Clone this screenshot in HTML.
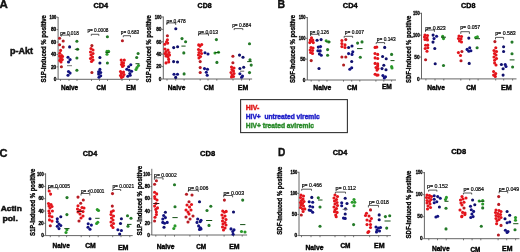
<!DOCTYPE html>
<html><head><meta charset="utf-8"><style>
html,body{margin:0;padding:0;background:#fff;}
body{width:520px;height:252px;overflow:hidden;}
svg{display:block;font-family:"Liberation Sans",sans-serif;filter:blur(0.45px);}
</style></head><body>
<svg width="520" height="252" viewBox="0 0 520 252">
<rect width="520" height="252" fill="#fff"/>
<text x="-0.4" y="8.3" font-size="11.5" font-weight="bold" fill="#111" stroke="#111" stroke-width="0.4">A</text>
<text x="277.6" y="8.4" font-size="11.5" font-weight="bold" fill="#111" stroke="#111" stroke-width="0.4" textLength="7.6" lengthAdjust="spacingAndGlyphs">B</text>
<text x="-0.4" y="156.6" font-size="11.5" font-weight="bold" fill="#111" stroke="#111" stroke-width="0.4" textLength="8.0" lengthAdjust="spacingAndGlyphs">C</text>
<text x="277.9" y="156.3" font-size="11.5" font-weight="bold" fill="#111" stroke="#111" stroke-width="0.4" textLength="7.3" lengthAdjust="spacingAndGlyphs">D</text>
<text x="9.9" y="53.5" font-size="8.5" font-weight="bold" fill="#111" stroke="#111" stroke-width="0.45" textLength="23.2" lengthAdjust="spacingAndGlyphs">p-Akt</text>
<text x="0.8" y="210.5" font-size="8.0" font-weight="bold" fill="#111" stroke="#111" stroke-width="0.5" textLength="21.0" lengthAdjust="spacingAndGlyphs">Actin</text>
<text x="2.5" y="221.3" font-size="8.0" font-weight="bold" fill="#111" stroke="#111" stroke-width="0.5" textLength="15.4" lengthAdjust="spacingAndGlyphs">pol.</text>
<path d="M58.1 17.0V79.3H139" stroke="#555" stroke-width="0.9" fill="none"/>
<line x1="56.6" y1="17.200000000000003" x2="58.1" y2="17.200000000000003" stroke="#555" stroke-width="0.8"/>
<text x="56.3" y="18.9" font-size="4.8" font-weight="bold" fill="#000" stroke="#000" stroke-width="0.3" text-anchor="end" textLength="6.8" lengthAdjust="spacingAndGlyphs">100</text>
<line x1="56.6" y1="29.619999999999997" x2="58.1" y2="29.619999999999997" stroke="#555" stroke-width="0.8"/>
<text x="56.3" y="31.3" font-size="4.8" font-weight="bold" fill="#000" stroke="#000" stroke-width="0.3" text-anchor="end">80</text>
<line x1="56.6" y1="42.04" x2="58.1" y2="42.04" stroke="#555" stroke-width="0.8"/>
<text x="56.3" y="43.7" font-size="4.8" font-weight="bold" fill="#000" stroke="#000" stroke-width="0.3" text-anchor="end">60</text>
<line x1="56.6" y1="54.459999999999994" x2="58.1" y2="54.459999999999994" stroke="#555" stroke-width="0.8"/>
<text x="56.3" y="56.2" font-size="4.8" font-weight="bold" fill="#000" stroke="#000" stroke-width="0.3" text-anchor="end">40</text>
<line x1="56.6" y1="66.88" x2="58.1" y2="66.88" stroke="#555" stroke-width="0.8"/>
<text x="56.3" y="68.6" font-size="4.8" font-weight="bold" fill="#000" stroke="#000" stroke-width="0.3" text-anchor="end">20</text>
<line x1="56.6" y1="79.3" x2="58.1" y2="79.3" stroke="#555" stroke-width="0.8"/>
<text x="56.3" y="81.0" font-size="4.8" font-weight="bold" fill="#000" stroke="#000" stroke-width="0.3" text-anchor="end">0</text>
<line x1="60.5" y1="79.3" x2="60.5" y2="80.89999999999999" stroke="#555" stroke-width="0.8"/>
<line x1="69" y1="79.3" x2="69" y2="80.89999999999999" stroke="#555" stroke-width="0.8"/>
<line x1="77" y1="79.3" x2="77" y2="80.89999999999999" stroke="#555" stroke-width="0.8"/>
<line x1="91.5" y1="79.3" x2="91.5" y2="80.89999999999999" stroke="#555" stroke-width="0.8"/>
<line x1="99.5" y1="79.3" x2="99.5" y2="80.89999999999999" stroke="#555" stroke-width="0.8"/>
<line x1="107.5" y1="79.3" x2="107.5" y2="80.89999999999999" stroke="#555" stroke-width="0.8"/>
<line x1="122" y1="79.3" x2="122" y2="80.89999999999999" stroke="#555" stroke-width="0.8"/>
<line x1="129.5" y1="79.3" x2="129.5" y2="80.89999999999999" stroke="#555" stroke-width="0.8"/>
<line x1="137" y1="79.3" x2="137" y2="80.89999999999999" stroke="#555" stroke-width="0.8"/>
<text x="61.0" y="89.8" font-size="7.0" font-weight="bold" fill="#000" stroke="#000" stroke-width="0.4" textLength="17.2" lengthAdjust="spacingAndGlyphs">Naive</text>
<text x="96.6" y="89.8" font-size="7.0" font-weight="bold" fill="#000" stroke="#000" stroke-width="0.4" textLength="9.4" lengthAdjust="spacingAndGlyphs">CM</text>
<text x="126.2" y="89.8" font-size="7.0" font-weight="bold" fill="#000" stroke="#000" stroke-width="0.4" textLength="9.8" lengthAdjust="spacingAndGlyphs">EM</text>
<text x="93.4" y="8.0" font-size="7.5" font-weight="bold" fill="#000" stroke="#000" stroke-width="0.4" textLength="14.8" lengthAdjust="spacingAndGlyphs">CD4</text>
<text transform="translate(45.7,48.8) rotate(-90)" x="0" y="0" font-size="6.4" font-weight="bold" fill="#000" stroke="#000" stroke-width="0.3" text-anchor="middle" textLength="67.5" lengthAdjust="spacingAndGlyphs">S1P-induced % positive</text>
<text x="60.2" y="34.9" font-size="5.6" font-weight="normal" fill="#000" stroke="#000" stroke-width="0.2" textLength="18.6" lengthAdjust="spacingAndGlyphs">p= 0.018</text>
<path d="M61.3 36.6V35.1H69.7V36.6" stroke="#222" stroke-width="0.75" fill="none"/>
<text x="87.4" y="32.1" font-size="5.6" font-weight="normal" fill="#000" stroke="#000" stroke-width="0.2" textLength="21.1" lengthAdjust="spacingAndGlyphs">p= 0.0008</text>
<path d="M91.3 35.8V34.3H98.8V35.8" stroke="#222" stroke-width="0.75" fill="none"/>
<text x="120.8" y="33.8" font-size="5.6" font-weight="normal" fill="#000" stroke="#000" stroke-width="0.2" textLength="18.3" lengthAdjust="spacingAndGlyphs">p= 0.683</text>
<path d="M123.3 37.2V35.7H130.5V37.2" stroke="#222" stroke-width="0.75" fill="none"/>
<circle cx="59.6" cy="38.3" r="1.55" fill="#b81c24"/>
<circle cx="63.2" cy="41.0" r="1.55" fill="#b81c24"/>
<circle cx="59.6" cy="44.7" r="1.55" fill="#b81c24"/>
<circle cx="63.2" cy="47.1" r="1.55" fill="#b81c24"/>
<circle cx="60.6" cy="50.4" r="1.55" fill="#e3141b"/>
<circle cx="59.8" cy="53.3" r="1.55" fill="#e3141b"/>
<circle cx="61.7" cy="55.6" r="1.55" fill="#e3141b"/>
<circle cx="60.6" cy="58.0" r="1.55" fill="#e3141b"/>
<circle cx="62.3" cy="59.6" r="1.55" fill="#e3141b"/>
<circle cx="59.8" cy="60.4" r="1.55" fill="#e3141b"/>
<circle cx="62.5" cy="56.5" r="1.55" fill="#e3141b"/>
<circle cx="61.0" cy="62.0" r="1.55" fill="#e3141b"/>
<circle cx="59.6" cy="56.0" r="1.55" fill="#e3141b"/>
<circle cx="61.4" cy="66.7" r="1.55" fill="#b02020"/>
<circle cx="69.6" cy="46.9" r="1.55" fill="#10106c"/>
<circle cx="68.0" cy="57.2" r="1.55" fill="#131380"/>
<circle cx="70.1" cy="59.6" r="1.55" fill="#131380"/>
<circle cx="68.5" cy="62.0" r="1.55" fill="#131380"/>
<circle cx="68.5" cy="71.5" r="1.55" fill="#131380"/>
<circle cx="70.1" cy="73.1" r="1.55" fill="#131380"/>
<circle cx="68.0" cy="75.3" r="1.55" fill="#131380"/>
<line x1="67" y1="65.7" x2="72" y2="65.7" stroke="#777" stroke-width="1"/>
<circle cx="76.9" cy="41.3" r="1.55" fill="#247a28"/>
<circle cx="77.5" cy="49.3" r="1.55" fill="#247a28"/>
<circle cx="76.9" cy="58.0" r="1.55" fill="#247a28"/>
<circle cx="76.9" cy="70.2" r="1.55" fill="#247a28"/>
<line x1="74.8" y1="49.3" x2="79.2" y2="49.3" stroke="#145014" stroke-width="1"/>
<circle cx="91.0" cy="48.5" r="1.55" fill="#e3141b"/>
<circle cx="93.0" cy="50.0" r="1.55" fill="#e3141b"/>
<circle cx="90.5" cy="52.0" r="1.55" fill="#e3141b"/>
<circle cx="93.0" cy="53.5" r="1.55" fill="#e3141b"/>
<circle cx="91.0" cy="55.0" r="1.55" fill="#e3141b"/>
<circle cx="92.5" cy="57.0" r="1.55" fill="#e3141b"/>
<circle cx="90.5" cy="58.5" r="1.55" fill="#e3141b"/>
<circle cx="93.0" cy="60.0" r="1.55" fill="#e3141b"/>
<circle cx="91.5" cy="61.5" r="1.55" fill="#e3141b"/>
<circle cx="91.9" cy="45.6" r="1.55" fill="#b02020"/>
<circle cx="91.9" cy="72.5" r="1.55" fill="#b02020"/>
<circle cx="99.9" cy="57.5" r="1.55" fill="#10106c"/>
<circle cx="99.9" cy="63.0" r="1.55" fill="#10106c"/>
<circle cx="99.9" cy="69.4" r="1.55" fill="#131380"/>
<circle cx="98.6" cy="71.7" r="1.55" fill="#131380"/>
<circle cx="100.7" cy="72.5" r="1.55" fill="#131380"/>
<circle cx="98.6" cy="74.1" r="1.55" fill="#131380"/>
<circle cx="100.7" cy="75.7" r="1.55" fill="#131380"/>
<circle cx="99.0" cy="77.3" r="1.55" fill="#131380"/>
<circle cx="107.4" cy="36.7" r="1.55" fill="#247a28"/>
<circle cx="107.0" cy="51.4" r="1.55" fill="#2a9a2a"/>
<circle cx="108.6" cy="51.4" r="1.55" fill="#2a9a2a"/>
<circle cx="107.0" cy="54.3" r="1.55" fill="#2a9a2a"/>
<circle cx="107.4" cy="63.0" r="1.55" fill="#247a28"/>
<line x1="105.4" y1="52.4" x2="109.4" y2="52.4" stroke="#145014" stroke-width="1"/>
<circle cx="122.4" cy="40.8" r="1.55" fill="#b81c24"/>
<circle cx="121.2" cy="60.1" r="1.55" fill="#e3141b"/>
<circle cx="124.3" cy="60.1" r="1.55" fill="#e3141b"/>
<circle cx="122.0" cy="62.5" r="1.55" fill="#e3141b"/>
<circle cx="123.5" cy="63.0" r="1.55" fill="#e3141b"/>
<circle cx="121.5" cy="64.5" r="1.55" fill="#e3141b"/>
<circle cx="123.5" cy="65.5" r="1.55" fill="#e3141b"/>
<circle cx="122.5" cy="66.5" r="1.55" fill="#e3141b"/>
<circle cx="120.5" cy="71.5" r="1.55" fill="#e3141b"/>
<circle cx="123.5" cy="72.0" r="1.55" fill="#e3141b"/>
<circle cx="121.5" cy="73.5" r="1.55" fill="#e3141b"/>
<circle cx="124.0" cy="74.5" r="1.55" fill="#e3141b"/>
<circle cx="120.5" cy="75.5" r="1.55" fill="#e3141b"/>
<circle cx="123.0" cy="76.5" r="1.55" fill="#e3141b"/>
<circle cx="121.5" cy="77.5" r="1.55" fill="#e3141b"/>
<circle cx="130.8" cy="64.8" r="1.55" fill="#131380"/>
<circle cx="128.6" cy="66.8" r="1.55" fill="#131380"/>
<circle cx="126.8" cy="69.2" r="1.55" fill="#131380"/>
<circle cx="129.2" cy="70.2" r="1.55" fill="#131380"/>
<circle cx="131.6" cy="71.2" r="1.55" fill="#131380"/>
<circle cx="129.8" cy="73.6" r="1.55" fill="#131380"/>
<circle cx="127.8" cy="76.2" r="1.55" fill="#131380"/>
<circle cx="130.2" cy="75.3" r="1.55" fill="#131380"/>
<circle cx="138.1" cy="53.5" r="1.55" fill="#247a28"/>
<circle cx="136.7" cy="57.5" r="1.55" fill="#247a28"/>
<circle cx="138.5" cy="65.5" r="1.55" fill="#2a9a2a"/>
<circle cx="137.0" cy="67.5" r="1.55" fill="#2a9a2a"/>
<circle cx="136.0" cy="69.5" r="1.55" fill="#2a9a2a"/>
<line x1="135.5" y1="63.7" x2="139.5" y2="63.7" stroke="#145014" stroke-width="1"/>
<path d="M163.3 16.5V79.0H252.1" stroke="#555" stroke-width="0.9" fill="none"/>
<line x1="161.8" y1="17.0" x2="163.3" y2="17.0" stroke="#555" stroke-width="0.8"/>
<text x="161.5" y="18.7" font-size="4.8" font-weight="bold" fill="#000" stroke="#000" stroke-width="0.3" text-anchor="end" textLength="6.8" lengthAdjust="spacingAndGlyphs">100</text>
<line x1="161.8" y1="29.4" x2="163.3" y2="29.4" stroke="#555" stroke-width="0.8"/>
<text x="161.5" y="31.1" font-size="4.8" font-weight="bold" fill="#000" stroke="#000" stroke-width="0.3" text-anchor="end">80</text>
<line x1="161.8" y1="41.8" x2="163.3" y2="41.8" stroke="#555" stroke-width="0.8"/>
<text x="161.5" y="43.5" font-size="4.8" font-weight="bold" fill="#000" stroke="#000" stroke-width="0.3" text-anchor="end">60</text>
<line x1="161.8" y1="54.2" x2="163.3" y2="54.2" stroke="#555" stroke-width="0.8"/>
<text x="161.5" y="55.9" font-size="4.8" font-weight="bold" fill="#000" stroke="#000" stroke-width="0.3" text-anchor="end">40</text>
<line x1="161.8" y1="66.6" x2="163.3" y2="66.6" stroke="#555" stroke-width="0.8"/>
<text x="161.5" y="68.3" font-size="4.8" font-weight="bold" fill="#000" stroke="#000" stroke-width="0.3" text-anchor="end">20</text>
<line x1="161.8" y1="79.0" x2="163.3" y2="79.0" stroke="#555" stroke-width="0.8"/>
<text x="161.5" y="80.7" font-size="4.8" font-weight="bold" fill="#000" stroke="#000" stroke-width="0.3" text-anchor="end">0</text>
<line x1="167" y1="79.0" x2="167" y2="80.6" stroke="#555" stroke-width="0.8"/>
<line x1="175.7" y1="79.0" x2="175.7" y2="80.6" stroke="#555" stroke-width="0.8"/>
<line x1="184.1" y1="79.0" x2="184.1" y2="80.6" stroke="#555" stroke-width="0.8"/>
<line x1="200.2" y1="79.0" x2="200.2" y2="80.6" stroke="#555" stroke-width="0.8"/>
<line x1="208" y1="79.0" x2="208" y2="80.6" stroke="#555" stroke-width="0.8"/>
<line x1="216.8" y1="79.0" x2="216.8" y2="80.6" stroke="#555" stroke-width="0.8"/>
<line x1="233" y1="79.0" x2="233" y2="80.6" stroke="#555" stroke-width="0.8"/>
<line x1="241.6" y1="79.0" x2="241.6" y2="80.6" stroke="#555" stroke-width="0.8"/>
<line x1="249.5" y1="79.0" x2="249.5" y2="80.6" stroke="#555" stroke-width="0.8"/>
<text x="167.8" y="89.8" font-size="7.0" font-weight="bold" fill="#000" stroke="#000" stroke-width="0.4" textLength="17.6" lengthAdjust="spacingAndGlyphs">Naive</text>
<text x="203.8" y="90.4" font-size="7.0" font-weight="bold" fill="#000" stroke="#000" stroke-width="0.4" textLength="10.0" lengthAdjust="spacingAndGlyphs">CM</text>
<text x="237.8" y="89.8" font-size="7.0" font-weight="bold" fill="#000" stroke="#000" stroke-width="0.4" textLength="10.4" lengthAdjust="spacingAndGlyphs">EM</text>
<text x="197.6" y="8.0" font-size="7.5" font-weight="bold" fill="#000" stroke="#000" stroke-width="0.4" textLength="14.0" lengthAdjust="spacingAndGlyphs">CD8</text>
<text transform="translate(151.0,48.8) rotate(-90)" x="0" y="0" font-size="6.4" font-weight="bold" fill="#000" stroke="#000" stroke-width="0.3" text-anchor="middle" textLength="67.5" lengthAdjust="spacingAndGlyphs">S1P-induced % positive</text>
<text x="166.5" y="22.6" font-size="5.6" font-weight="normal" fill="#000" stroke="#000" stroke-width="0.2" textLength="19.2" lengthAdjust="spacingAndGlyphs">p= 0.478</text>
<path d="M166.8 24.9V22.9H175.7V24.9" stroke="#222" stroke-width="0.75" fill="none"/>
<text x="198.3" y="33.6" font-size="5.6" font-weight="normal" fill="#000" stroke="#000" stroke-width="0.2" textLength="19.7" lengthAdjust="spacingAndGlyphs">p= 0.013</text>
<path d="M198.5 35.8V33.9H208.5V35.8" stroke="#222" stroke-width="0.75" fill="none"/>
<text x="232.2" y="27.2" font-size="5.6" font-weight="normal" fill="#000" stroke="#000" stroke-width="0.2" textLength="18.9" lengthAdjust="spacingAndGlyphs">p= 0.884</text>
<path d="M234.2 30.1V28.6H242.8V30.1" stroke="#222" stroke-width="0.75" fill="none"/>
<circle cx="167.4" cy="35.7" r="1.55" fill="#b81c24"/>
<circle cx="167.4" cy="39.8" r="1.55" fill="#e3141b"/>
<circle cx="166.5" cy="41.9" r="1.55" fill="#e3141b"/>
<circle cx="167.7" cy="43.1" r="1.55" fill="#e3141b"/>
<circle cx="164.8" cy="44.3" r="1.55" fill="#e3141b"/>
<circle cx="165.0" cy="49.0" r="1.55" fill="#e3141b"/>
<circle cx="168.0" cy="50.0" r="1.55" fill="#e3141b"/>
<circle cx="166.0" cy="51.5" r="1.55" fill="#e3141b"/>
<circle cx="169.0" cy="52.5" r="1.55" fill="#e3141b"/>
<circle cx="165.0" cy="53.5" r="1.55" fill="#e3141b"/>
<circle cx="167.0" cy="54.5" r="1.55" fill="#e3141b"/>
<circle cx="169.5" cy="55.0" r="1.55" fill="#e3141b"/>
<circle cx="166.0" cy="56.0" r="1.55" fill="#e3141b"/>
<circle cx="168.0" cy="57.0" r="1.55" fill="#e3141b"/>
<circle cx="168.7" cy="59.4" r="1.55" fill="#e3141b"/>
<circle cx="166.0" cy="62.9" r="1.55" fill="#e3141b"/>
<circle cx="168.7" cy="62.0" r="1.55" fill="#e3141b"/>
<circle cx="175.8" cy="28.8" r="1.55" fill="#10106c"/>
<circle cx="173.7" cy="47.6" r="1.55" fill="#10106c"/>
<circle cx="177.6" cy="46.7" r="1.55" fill="#10106c"/>
<circle cx="173.6" cy="61.6" r="1.55" fill="#10106c"/>
<circle cx="177.5" cy="62.0" r="1.55" fill="#10106c"/>
<circle cx="174.0" cy="74.2" r="1.55" fill="#131380"/>
<circle cx="177.5" cy="74.2" r="1.55" fill="#131380"/>
<circle cx="175.7" cy="77.4" r="1.55" fill="#10106c"/>
<circle cx="182.0" cy="38.6" r="1.55" fill="#247a28"/>
<circle cx="185.6" cy="41.7" r="1.55" fill="#247a28"/>
<circle cx="183.8" cy="52.9" r="1.55" fill="#247a28"/>
<circle cx="184.1" cy="73.9" r="1.55" fill="#247a28"/>
<line x1="181.4" y1="46.1" x2="185.6" y2="46.1" stroke="#145014" stroke-width="1"/>
<circle cx="198.7" cy="44.9" r="1.55" fill="#e3141b"/>
<circle cx="201.7" cy="44.5" r="1.55" fill="#e3141b"/>
<circle cx="200.0" cy="46.1" r="1.55" fill="#e3141b"/>
<circle cx="198.5" cy="49.5" r="1.55" fill="#e3141b"/>
<circle cx="201.0" cy="50.5" r="1.55" fill="#e3141b"/>
<circle cx="199.0" cy="52.5" r="1.55" fill="#e3141b"/>
<circle cx="201.5" cy="53.5" r="1.55" fill="#e3141b"/>
<circle cx="198.5" cy="55.0" r="1.55" fill="#e3141b"/>
<circle cx="200.5" cy="56.5" r="1.55" fill="#e3141b"/>
<circle cx="199.0" cy="58.0" r="1.55" fill="#e3141b"/>
<circle cx="200.2" cy="61.6" r="1.55" fill="#b81c24"/>
<circle cx="200.2" cy="67.6" r="1.55" fill="#b81c24"/>
<circle cx="200.2" cy="72.5" r="1.55" fill="#b81c24"/>
<circle cx="205.0" cy="52.8" r="1.55" fill="#131380"/>
<circle cx="208.0" cy="54.0" r="1.55" fill="#131380"/>
<circle cx="204.5" cy="68.6" r="1.55" fill="#131380"/>
<circle cx="207.5" cy="69.3" r="1.55" fill="#131380"/>
<circle cx="206.3" cy="72.3" r="1.55" fill="#131380"/>
<circle cx="207.2" cy="75.3" r="1.55" fill="#131380"/>
<circle cx="216.4" cy="39.6" r="1.55" fill="#247a28"/>
<circle cx="215.0" cy="53.0" r="1.55" fill="#2a9a2a"/>
<circle cx="218.5" cy="52.3" r="1.55" fill="#2a9a2a"/>
<circle cx="216.9" cy="62.4" r="1.55" fill="#247a28"/>
<line x1="215" y1="52.5" x2="219.5" y2="52.5" stroke="#145014" stroke-width="1"/>
<circle cx="232.9" cy="56.3" r="1.55" fill="#b81c24"/>
<circle cx="232.9" cy="62.8" r="1.55" fill="#b81c24"/>
<circle cx="231.5" cy="67.0" r="1.55" fill="#e3141b"/>
<circle cx="234.0" cy="68.0" r="1.55" fill="#e3141b"/>
<circle cx="232.0" cy="69.5" r="1.55" fill="#e3141b"/>
<circle cx="233.5" cy="71.0" r="1.55" fill="#e3141b"/>
<circle cx="231.0" cy="72.5" r="1.55" fill="#e3141b"/>
<circle cx="234.0" cy="73.5" r="1.55" fill="#e3141b"/>
<circle cx="232.0" cy="75.0" r="1.55" fill="#e3141b"/>
<circle cx="233.5" cy="76.5" r="1.55" fill="#e3141b"/>
<circle cx="231.5" cy="77.0" r="1.55" fill="#e3141b"/>
<circle cx="239.5" cy="55.1" r="1.55" fill="#10106c"/>
<circle cx="243.0" cy="57.2" r="1.55" fill="#10106c"/>
<circle cx="243.7" cy="67.3" r="1.55" fill="#10106c"/>
<circle cx="239.9" cy="68.5" r="1.55" fill="#10106c"/>
<circle cx="239.9" cy="73.8" r="1.55" fill="#131380"/>
<circle cx="242.5" cy="76.0" r="1.55" fill="#131380"/>
<circle cx="241.6" cy="77.3" r="1.55" fill="#131380"/>
<line x1="240" y1="71.2" x2="244.2" y2="71.2" stroke="#666" stroke-width="1"/>
<circle cx="249.5" cy="43.8" r="1.55" fill="#247a28"/>
<circle cx="250.0" cy="59.8" r="1.55" fill="#247a28"/>
<circle cx="251.2" cy="65.1" r="1.55" fill="#247a28"/>
<circle cx="249.5" cy="72.6" r="1.55" fill="#247a28"/>
<line x1="247.2" y1="61.6" x2="251.7" y2="61.6" stroke="#145014" stroke-width="1"/>
<path d="M307.3 17V80.0H396" stroke="#555" stroke-width="0.9" fill="none"/>
<line x1="305.8" y1="17.5" x2="307.3" y2="17.5" stroke="#555" stroke-width="0.8"/>
<text x="305.5" y="19.2" font-size="4.8" font-weight="bold" fill="#000" stroke="#000" stroke-width="0.3" text-anchor="end" textLength="6.8" lengthAdjust="spacingAndGlyphs">150</text>
<line x1="305.8" y1="38.333333333333336" x2="307.3" y2="38.333333333333336" stroke="#555" stroke-width="0.8"/>
<text x="305.5" y="40.0" font-size="4.8" font-weight="bold" fill="#000" stroke="#000" stroke-width="0.3" text-anchor="end" textLength="6.8" lengthAdjust="spacingAndGlyphs">100</text>
<line x1="305.8" y1="59.16666666666667" x2="307.3" y2="59.16666666666667" stroke="#555" stroke-width="0.8"/>
<text x="305.5" y="60.9" font-size="4.8" font-weight="bold" fill="#000" stroke="#000" stroke-width="0.3" text-anchor="end">50</text>
<line x1="305.8" y1="80.0" x2="307.3" y2="80.0" stroke="#555" stroke-width="0.8"/>
<text x="305.5" y="81.7" font-size="4.8" font-weight="bold" fill="#000" stroke="#000" stroke-width="0.3" text-anchor="end">0</text>
<line x1="311.2" y1="80.0" x2="311.2" y2="81.6" stroke="#555" stroke-width="0.8"/>
<line x1="319" y1="80.0" x2="319" y2="81.6" stroke="#555" stroke-width="0.8"/>
<line x1="327" y1="80.0" x2="327" y2="81.6" stroke="#555" stroke-width="0.8"/>
<line x1="343.5" y1="80.0" x2="343.5" y2="81.6" stroke="#555" stroke-width="0.8"/>
<line x1="351.7" y1="80.0" x2="351.7" y2="81.6" stroke="#555" stroke-width="0.8"/>
<line x1="359.8" y1="80.0" x2="359.8" y2="81.6" stroke="#555" stroke-width="0.8"/>
<line x1="375.9" y1="80.0" x2="375.9" y2="81.6" stroke="#555" stroke-width="0.8"/>
<line x1="383.8" y1="80.0" x2="383.8" y2="81.6" stroke="#555" stroke-width="0.8"/>
<line x1="391.6" y1="80.0" x2="391.6" y2="81.6" stroke="#555" stroke-width="0.8"/>
<text x="313.3" y="89.8" font-size="7.0" font-weight="bold" fill="#000" stroke="#000" stroke-width="0.4" textLength="18.0" lengthAdjust="spacingAndGlyphs">Naive</text>
<text x="347.0" y="90.3" font-size="7.0" font-weight="bold" fill="#000" stroke="#000" stroke-width="0.4" textLength="10.4" lengthAdjust="spacingAndGlyphs">CM</text>
<text x="381.9" y="89.0" font-size="7.0" font-weight="bold" fill="#000" stroke="#000" stroke-width="0.4" textLength="9.9" lengthAdjust="spacingAndGlyphs">EM</text>
<text x="342.8" y="8.0" font-size="7.5" font-weight="bold" fill="#000" stroke="#000" stroke-width="0.4" textLength="14.8" lengthAdjust="spacingAndGlyphs">CD4</text>
<text transform="translate(295.4,49.0) rotate(-90)" x="0" y="0" font-size="6.4" font-weight="bold" fill="#000" stroke="#000" stroke-width="0.3" text-anchor="middle" textLength="68.0" lengthAdjust="spacingAndGlyphs">SDF-induced % positive</text>
<text x="309.8" y="33.8" font-size="5.6" font-weight="normal" fill="#000" stroke="#000" stroke-width="0.2" textLength="19.1" lengthAdjust="spacingAndGlyphs">p= 0.126</text>
<path d="M310.6 36.0V34.3H319V36.0" stroke="#222" stroke-width="0.75" fill="none"/>
<text x="344.8" y="33.8" font-size="5.6" font-weight="normal" fill="#000" stroke="#000" stroke-width="0.2" textLength="19.2" lengthAdjust="spacingAndGlyphs">p= 0.007</text>
<path d="M344.2 37.8V36.3H352.6V37.8" stroke="#222" stroke-width="0.75" fill="none"/>
<text x="376.8" y="40.6" font-size="5.6" font-weight="normal" fill="#000" stroke="#000" stroke-width="0.2" textLength="18.9" lengthAdjust="spacingAndGlyphs">p= 0.143</text>
<path d="M376.2 44.1V42.6H384.6V44.1" stroke="#222" stroke-width="0.75" fill="none"/>
<circle cx="311.5" cy="37.8" r="1.55" fill="#e3141b"/>
<circle cx="310.3" cy="40.0" r="1.55" fill="#e3141b"/>
<circle cx="312.8" cy="40.0" r="1.55" fill="#e3141b"/>
<circle cx="311.5" cy="41.3" r="1.55" fill="#e3141b"/>
<circle cx="309.8" cy="42.6" r="1.55" fill="#e3141b"/>
<circle cx="313.3" cy="42.6" r="1.55" fill="#e3141b"/>
<circle cx="311.0" cy="47.5" r="1.55" fill="#e3141b"/>
<circle cx="313.0" cy="48.0" r="1.55" fill="#e3141b"/>
<circle cx="310.2" cy="50.0" r="1.55" fill="#e3141b"/>
<circle cx="312.5" cy="50.5" r="1.55" fill="#e3141b"/>
<circle cx="310.6" cy="52.5" r="1.55" fill="#e3141b"/>
<circle cx="312.5" cy="53.5" r="1.55" fill="#e3141b"/>
<circle cx="311.2" cy="60.6" r="1.55" fill="#b02020"/>
<circle cx="317.1" cy="40.3" r="1.55" fill="#10106c"/>
<circle cx="321.1" cy="39.6" r="1.55" fill="#10106c"/>
<circle cx="318.3" cy="47.1" r="1.55" fill="#131380"/>
<circle cx="320.5" cy="46.6" r="1.55" fill="#131380"/>
<circle cx="317.9" cy="50.7" r="1.55" fill="#131380"/>
<circle cx="320.2" cy="50.9" r="1.55" fill="#131380"/>
<circle cx="319.4" cy="53.9" r="1.55" fill="#131380"/>
<circle cx="321.3" cy="55.3" r="1.55" fill="#131380"/>
<circle cx="319.0" cy="68.5" r="1.55" fill="#10106c"/>
<circle cx="326.2" cy="40.8" r="1.55" fill="#2a9a2a"/>
<circle cx="328.8" cy="41.9" r="1.55" fill="#2a9a2a"/>
<circle cx="327.6" cy="49.6" r="1.55" fill="#247a28"/>
<circle cx="327.6" cy="55.3" r="1.55" fill="#247a28"/>
<line x1="326" y1="41.9" x2="330.5" y2="41.9" stroke="#145014" stroke-width="1"/>
<circle cx="341.9" cy="40.5" r="1.55" fill="#e3141b"/>
<circle cx="345.8" cy="39.6" r="1.55" fill="#b81c24"/>
<circle cx="341.9" cy="43.6" r="1.55" fill="#e3141b"/>
<circle cx="345.0" cy="44.8" r="1.55" fill="#e3141b"/>
<circle cx="341.9" cy="46.6" r="1.55" fill="#e3141b"/>
<circle cx="345.0" cy="47.5" r="1.55" fill="#e3141b"/>
<circle cx="341.9" cy="57.0" r="1.55" fill="#b81c24"/>
<circle cx="345.8" cy="57.0" r="1.55" fill="#b81c24"/>
<circle cx="343.6" cy="65.0" r="1.55" fill="#b02020"/>
<circle cx="348.6" cy="47.5" r="1.55" fill="#10106c"/>
<circle cx="352.0" cy="46.0" r="1.55" fill="#10106c"/>
<circle cx="352.8" cy="51.8" r="1.55" fill="#131380"/>
<circle cx="348.6" cy="53.6" r="1.55" fill="#131380"/>
<circle cx="352.0" cy="54.4" r="1.55" fill="#131380"/>
<circle cx="351.7" cy="61.5" r="1.55" fill="#10106c"/>
<circle cx="351.7" cy="67.8" r="1.55" fill="#131380"/>
<circle cx="349.8" cy="69.3" r="1.55" fill="#131380"/>
<circle cx="357.6" cy="43.1" r="1.55" fill="#247a28"/>
<circle cx="362.0" cy="41.9" r="1.55" fill="#247a28"/>
<circle cx="360.3" cy="57.3" r="1.55" fill="#247a28"/>
<line x1="357" y1="48.6" x2="362.5" y2="48.6" stroke="#145014" stroke-width="1"/>
<circle cx="375.1" cy="47.4" r="1.55" fill="#e3141b"/>
<circle cx="376.8" cy="47.1" r="1.55" fill="#e3141b"/>
<circle cx="375.0" cy="53.5" r="1.55" fill="#e3141b"/>
<circle cx="377.7" cy="54.4" r="1.55" fill="#e3141b"/>
<circle cx="375.1" cy="57.9" r="1.55" fill="#e3141b"/>
<circle cx="377.7" cy="58.5" r="1.55" fill="#e3141b"/>
<circle cx="375.1" cy="63.4" r="1.55" fill="#e3141b"/>
<circle cx="377.7" cy="63.9" r="1.55" fill="#e3141b"/>
<circle cx="377.7" cy="65.8" r="1.55" fill="#e3141b"/>
<circle cx="376.0" cy="67.5" r="1.55" fill="#e3141b"/>
<circle cx="378.0" cy="68.6" r="1.55" fill="#e3141b"/>
<circle cx="377.0" cy="70.1" r="1.55" fill="#e3141b"/>
<circle cx="375.1" cy="74.2" r="1.55" fill="#e3141b"/>
<circle cx="376.8" cy="75.1" r="1.55" fill="#e3141b"/>
<circle cx="378.0" cy="75.0" r="1.55" fill="#e3141b"/>
<circle cx="384.7" cy="47.4" r="1.55" fill="#10106c"/>
<circle cx="382.6" cy="56.5" r="1.55" fill="#10106c"/>
<circle cx="386.2" cy="58.8" r="1.55" fill="#10106c"/>
<circle cx="383.8" cy="65.3" r="1.55" fill="#10106c"/>
<circle cx="382.0" cy="68.6" r="1.55" fill="#10106c"/>
<circle cx="386.0" cy="69.8" r="1.55" fill="#10106c"/>
<circle cx="382.9" cy="75.6" r="1.55" fill="#131380"/>
<circle cx="385.5" cy="76.8" r="1.55" fill="#131380"/>
<circle cx="384.3" cy="78.0" r="1.55" fill="#131380"/>
<circle cx="391.6" cy="54.4" r="1.55" fill="#247a28"/>
<circle cx="391.6" cy="66.6" r="1.55" fill="#2a9a2a"/>
<circle cx="392.0" cy="68.0" r="1.55" fill="#2a9a2a"/>
<line x1="390.5" y1="60.6" x2="394.5" y2="60.6" stroke="#145014" stroke-width="1"/>
<path d="M421.5 12.8V78.9H516.5" stroke="#555" stroke-width="0.9" fill="none"/>
<line x1="420.0" y1="13.299999999999997" x2="421.5" y2="13.299999999999997" stroke="#555" stroke-width="0.8"/>
<text x="419.7" y="15.0" font-size="4.8" font-weight="bold" fill="#000" stroke="#000" stroke-width="0.3" text-anchor="end" textLength="6.8" lengthAdjust="spacingAndGlyphs">150</text>
<line x1="420.0" y1="35.166666666666664" x2="421.5" y2="35.166666666666664" stroke="#555" stroke-width="0.8"/>
<text x="419.7" y="36.9" font-size="4.8" font-weight="bold" fill="#000" stroke="#000" stroke-width="0.3" text-anchor="end" textLength="6.8" lengthAdjust="spacingAndGlyphs">100</text>
<line x1="420.0" y1="57.03333333333333" x2="421.5" y2="57.03333333333333" stroke="#555" stroke-width="0.8"/>
<text x="419.7" y="58.7" font-size="4.8" font-weight="bold" fill="#000" stroke="#000" stroke-width="0.3" text-anchor="end">50</text>
<line x1="420.0" y1="78.9" x2="421.5" y2="78.9" stroke="#555" stroke-width="0.8"/>
<text x="419.7" y="80.6" font-size="4.8" font-weight="bold" fill="#000" stroke="#000" stroke-width="0.3" text-anchor="end">0</text>
<line x1="425.9" y1="78.9" x2="425.9" y2="80.5" stroke="#555" stroke-width="0.8"/>
<line x1="435" y1="78.9" x2="435" y2="80.5" stroke="#555" stroke-width="0.8"/>
<line x1="443.8" y1="78.9" x2="443.8" y2="80.5" stroke="#555" stroke-width="0.8"/>
<line x1="460.8" y1="78.9" x2="460.8" y2="80.5" stroke="#555" stroke-width="0.8"/>
<line x1="469.7" y1="78.9" x2="469.7" y2="80.5" stroke="#555" stroke-width="0.8"/>
<line x1="478.1" y1="78.9" x2="478.1" y2="80.5" stroke="#555" stroke-width="0.8"/>
<line x1="495.7" y1="78.9" x2="495.7" y2="80.5" stroke="#555" stroke-width="0.8"/>
<line x1="503.7" y1="78.9" x2="503.7" y2="80.5" stroke="#555" stroke-width="0.8"/>
<line x1="512.6" y1="78.9" x2="512.6" y2="80.5" stroke="#555" stroke-width="0.8"/>
<text x="427.3" y="89.8" font-size="7.0" font-weight="bold" fill="#000" stroke="#000" stroke-width="0.4" textLength="17.7" lengthAdjust="spacingAndGlyphs">Naive</text>
<text x="466.2" y="90.4" font-size="7.0" font-weight="bold" fill="#000" stroke="#000" stroke-width="0.4" textLength="10.0" lengthAdjust="spacingAndGlyphs">CM</text>
<text x="501.0" y="89.8" font-size="7.0" font-weight="bold" fill="#000" stroke="#000" stroke-width="0.4" textLength="10.9" lengthAdjust="spacingAndGlyphs">EM</text>
<text x="461.1" y="7.5" font-size="7.5" font-weight="bold" fill="#000" stroke="#000" stroke-width="0.4" textLength="14.4" lengthAdjust="spacingAndGlyphs">CD8</text>
<text transform="translate(411.3,49.3) rotate(-90)" x="0" y="0" font-size="6.4" font-weight="bold" fill="#000" stroke="#000" stroke-width="0.3" text-anchor="middle" textLength="67.2" lengthAdjust="spacingAndGlyphs">SDF-induced % positive</text>
<text x="425.2" y="29.7" font-size="5.6" font-weight="normal" fill="#000" stroke="#000" stroke-width="0.2" textLength="20.6" lengthAdjust="spacingAndGlyphs">p= 0.823</text>
<path d="M425.5 31.9V30.0H434.4V31.9" stroke="#222" stroke-width="0.75" fill="none"/>
<text x="460.2" y="28.9" font-size="5.6" font-weight="normal" fill="#000" stroke="#000" stroke-width="0.2" textLength="20.0" lengthAdjust="spacingAndGlyphs">p= 0.057</text>
<path d="M460.8 33.9V31.7H469.4V33.9" stroke="#222" stroke-width="0.75" fill="none"/>
<text x="495.2" y="34.6" font-size="5.6" font-weight="normal" fill="#000" stroke="#000" stroke-width="0.2" textLength="20.6" lengthAdjust="spacingAndGlyphs">p= 0.583</text>
<path d="M495.5 39.4V37.4H503.6V39.4" stroke="#222" stroke-width="0.75" fill="none"/>
<circle cx="425.0" cy="35.0" r="1.55" fill="#e3141b"/>
<circle cx="427.5" cy="35.5" r="1.55" fill="#e3141b"/>
<circle cx="424.5" cy="37.0" r="1.55" fill="#e3141b"/>
<circle cx="427.0" cy="38.0" r="1.55" fill="#e3141b"/>
<circle cx="425.0" cy="39.5" r="1.55" fill="#e3141b"/>
<circle cx="427.5" cy="40.0" r="1.55" fill="#e3141b"/>
<circle cx="427.8" cy="45.1" r="1.55" fill="#e3141b"/>
<circle cx="425.6" cy="45.3" r="1.55" fill="#e3141b"/>
<circle cx="427.8" cy="47.7" r="1.55" fill="#e3141b"/>
<circle cx="425.2" cy="48.5" r="1.55" fill="#e3141b"/>
<circle cx="427.0" cy="51.2" r="1.55" fill="#e3141b"/>
<circle cx="425.6" cy="59.8" r="1.55" fill="#b81c24"/>
<circle cx="433.1" cy="35.1" r="1.55" fill="#10106c"/>
<circle cx="436.6" cy="36.3" r="1.55" fill="#131380"/>
<circle cx="434.0" cy="38.6" r="1.55" fill="#131380"/>
<circle cx="433.0" cy="42.1" r="1.55" fill="#10106c"/>
<circle cx="434.8" cy="48.5" r="1.55" fill="#10106c"/>
<circle cx="435.2" cy="63.8" r="1.55" fill="#10106c"/>
<circle cx="442.7" cy="36.3" r="1.55" fill="#2a9a2a"/>
<circle cx="443.5" cy="38.6" r="1.55" fill="#2a9a2a"/>
<circle cx="443.5" cy="65.5" r="1.55" fill="#247a28"/>
<line x1="441" y1="37.2" x2="446" y2="37.2" stroke="#145014" stroke-width="1"/>
<circle cx="459.0" cy="36.0" r="1.55" fill="#e3141b"/>
<circle cx="461.5" cy="36.5" r="1.55" fill="#e3141b"/>
<circle cx="458.5" cy="38.5" r="1.55" fill="#e3141b"/>
<circle cx="461.0" cy="39.0" r="1.55" fill="#e3141b"/>
<circle cx="459.5" cy="41.0" r="1.55" fill="#e3141b"/>
<circle cx="461.5" cy="42.0" r="1.55" fill="#e3141b"/>
<circle cx="458.4" cy="52.6" r="1.55" fill="#e3141b"/>
<circle cx="461.9" cy="51.5" r="1.55" fill="#b81c24"/>
<circle cx="460.5" cy="55.5" r="1.55" fill="#e3141b"/>
<circle cx="461.0" cy="60.8" r="1.55" fill="#b81c24"/>
<circle cx="468.8" cy="38.1" r="1.55" fill="#10106c"/>
<circle cx="467.1" cy="49.4" r="1.55" fill="#131380"/>
<circle cx="469.7" cy="47.7" r="1.55" fill="#131380"/>
<circle cx="470.9" cy="50.8" r="1.55" fill="#131380"/>
<circle cx="468.8" cy="51.2" r="1.55" fill="#131380"/>
<circle cx="469.2" cy="63.4" r="1.55" fill="#10106c"/>
<circle cx="475.7" cy="37.6" r="1.55" fill="#2a9a2a"/>
<circle cx="477.4" cy="36.9" r="1.55" fill="#2a9a2a"/>
<circle cx="477.1" cy="47.7" r="1.55" fill="#247a28"/>
<line x1="475" y1="38.7" x2="480" y2="38.7" stroke="#145014" stroke-width="1"/>
<circle cx="494.9" cy="41.6" r="1.55" fill="#b81c24"/>
<circle cx="495.8" cy="47.7" r="1.55" fill="#e3141b"/>
<circle cx="494.0" cy="50.5" r="1.55" fill="#e3141b"/>
<circle cx="496.5" cy="51.5" r="1.55" fill="#e3141b"/>
<circle cx="494.5" cy="53.5" r="1.55" fill="#e3141b"/>
<circle cx="496.0" cy="55.0" r="1.55" fill="#e3141b"/>
<circle cx="494.0" cy="57.0" r="1.55" fill="#e3141b"/>
<circle cx="496.5" cy="58.5" r="1.55" fill="#e3141b"/>
<circle cx="494.6" cy="60.3" r="1.55" fill="#e3141b"/>
<circle cx="494.6" cy="63.0" r="1.55" fill="#e3141b"/>
<circle cx="496.0" cy="65.0" r="1.55" fill="#e3141b"/>
<circle cx="493.6" cy="71.5" r="1.55" fill="#e3141b"/>
<circle cx="495.7" cy="73.6" r="1.55" fill="#e3141b"/>
<circle cx="493.6" cy="75.1" r="1.55" fill="#e3141b"/>
<circle cx="495.3" cy="76.4" r="1.55" fill="#e3141b"/>
<circle cx="503.6" cy="46.8" r="1.55" fill="#10106c"/>
<circle cx="503.6" cy="51.5" r="1.55" fill="#10106c"/>
<circle cx="501.4" cy="64.5" r="1.55" fill="#10106c"/>
<circle cx="505.2" cy="64.5" r="1.55" fill="#131380"/>
<circle cx="503.1" cy="68.8" r="1.55" fill="#10106c"/>
<circle cx="503.1" cy="75.1" r="1.55" fill="#10106c"/>
<circle cx="506.0" cy="66.5" r="1.55" fill="#131380"/>
<circle cx="512.0" cy="42.1" r="1.55" fill="#247a28"/>
<circle cx="512.0" cy="53.8" r="1.55" fill="#247a28"/>
<circle cx="512.6" cy="67.0" r="1.55" fill="#247a28"/>
<line x1="509.7" y1="59.9" x2="514.5" y2="59.9" stroke="#145014" stroke-width="1"/>
<rect x="240.6" y="99.6" width="106.8" height="33" fill="#fff" stroke="#333" stroke-width="1.1"/>
<text x="245.8" y="109.8" font-size="7.3" font-weight="bold" fill="#e01818" stroke="#e01818" stroke-width="0.45" textLength="13.5" lengthAdjust="spacingAndGlyphs">HIV-</text>
<text x="245.8" y="118.8" font-size="7.4" font-weight="bold" fill="#1c1cc8" stroke="#1c1cc8" stroke-width="0.45" textLength="74.0" lengthAdjust="spacingAndGlyphs">HIV+&#160; untreated viremic</text>
<text x="245.8" y="127.7" font-size="7.4" font-weight="bold" fill="#2a8a2a" stroke="#2a8a2a" stroke-width="0.45" textLength="68.2" lengthAdjust="spacingAndGlyphs">HIV+ treated aviremic</text>
<path d="M45.6 173.3V235.6H132.7" stroke="#555" stroke-width="0.9" fill="none"/>
<line x1="44.1" y1="174.1" x2="45.6" y2="174.1" stroke="#555" stroke-width="0.8"/>
<text x="43.8" y="175.8" font-size="4.8" font-weight="bold" fill="#000" stroke="#000" stroke-width="0.3" text-anchor="end" textLength="6.8" lengthAdjust="spacingAndGlyphs">100</text>
<line x1="44.1" y1="186.39999999999998" x2="45.6" y2="186.39999999999998" stroke="#555" stroke-width="0.8"/>
<text x="43.8" y="188.1" font-size="4.8" font-weight="bold" fill="#000" stroke="#000" stroke-width="0.3" text-anchor="end">80</text>
<line x1="44.1" y1="198.7" x2="45.6" y2="198.7" stroke="#555" stroke-width="0.8"/>
<text x="43.8" y="200.4" font-size="4.8" font-weight="bold" fill="#000" stroke="#000" stroke-width="0.3" text-anchor="end">60</text>
<line x1="44.1" y1="211.0" x2="45.6" y2="211.0" stroke="#555" stroke-width="0.8"/>
<text x="43.8" y="212.7" font-size="4.8" font-weight="bold" fill="#000" stroke="#000" stroke-width="0.3" text-anchor="end">40</text>
<line x1="44.1" y1="223.29999999999998" x2="45.6" y2="223.29999999999998" stroke="#555" stroke-width="0.8"/>
<text x="43.8" y="225.0" font-size="4.8" font-weight="bold" fill="#000" stroke="#000" stroke-width="0.3" text-anchor="end">20</text>
<line x1="44.1" y1="235.6" x2="45.6" y2="235.6" stroke="#555" stroke-width="0.8"/>
<text x="43.8" y="237.3" font-size="4.8" font-weight="bold" fill="#000" stroke="#000" stroke-width="0.3" text-anchor="end">0</text>
<line x1="50.3" y1="235.6" x2="50.3" y2="237.2" stroke="#555" stroke-width="0.8"/>
<line x1="59" y1="235.6" x2="59" y2="237.2" stroke="#555" stroke-width="0.8"/>
<line x1="66.6" y1="235.6" x2="66.6" y2="237.2" stroke="#555" stroke-width="0.8"/>
<line x1="81.2" y1="235.6" x2="81.2" y2="237.2" stroke="#555" stroke-width="0.8"/>
<line x1="89.6" y1="235.6" x2="89.6" y2="237.2" stroke="#555" stroke-width="0.8"/>
<line x1="98.2" y1="235.6" x2="98.2" y2="237.2" stroke="#555" stroke-width="0.8"/>
<line x1="112.7" y1="235.6" x2="112.7" y2="237.2" stroke="#555" stroke-width="0.8"/>
<line x1="121" y1="235.6" x2="121" y2="237.2" stroke="#555" stroke-width="0.8"/>
<line x1="129.8" y1="235.6" x2="129.8" y2="237.2" stroke="#555" stroke-width="0.8"/>
<text x="52.5" y="248.4" font-size="7.0" font-weight="bold" fill="#000" stroke="#000" stroke-width="0.4" textLength="17.3" lengthAdjust="spacingAndGlyphs">Naive</text>
<text x="85.2" y="248.4" font-size="7.0" font-weight="bold" fill="#000" stroke="#000" stroke-width="0.4" textLength="10.6" lengthAdjust="spacingAndGlyphs">CM</text>
<text x="117.9" y="249.8" font-size="7.0" font-weight="bold" fill="#000" stroke="#000" stroke-width="0.4" textLength="10.6" lengthAdjust="spacingAndGlyphs">EM</text>
<text x="82.8" y="155.7" font-size="8.0" font-weight="bold" fill="#000" stroke="#000" stroke-width="0.4" textLength="14.5" lengthAdjust="spacingAndGlyphs">CD4</text>
<text transform="translate(34.9,202.4) rotate(-90)" x="0" y="0" font-size="6.4" font-weight="bold" fill="#000" stroke="#000" stroke-width="0.3" text-anchor="middle" textLength="67.2" lengthAdjust="spacingAndGlyphs">S1P-induced % positive</text>
<text x="48.1" y="187.7" font-size="5.6" font-weight="normal" fill="#000" stroke="#000" stroke-width="0.2" textLength="22.0" lengthAdjust="spacingAndGlyphs">p= 0.0005</text>
<path d="M48.4 189.7V187.7H57.9V189.7" stroke="#222" stroke-width="0.75" fill="none"/>
<text x="80.9" y="192.5" font-size="5.6" font-weight="normal" fill="#000" stroke="#000" stroke-width="0.2" textLength="23.5" lengthAdjust="spacingAndGlyphs">p= &lt;0.0001</text>
<path d="M81 195.5V193.5H89.8V195.5" stroke="#222" stroke-width="0.75" fill="none"/>
<text x="112.4" y="188.0" font-size="5.6" font-weight="normal" fill="#000" stroke="#000" stroke-width="0.2" textLength="21.7" lengthAdjust="spacingAndGlyphs">p= 0.0021</text>
<path d="M112.7 191.0V189.5H120.7V191.0" stroke="#222" stroke-width="0.75" fill="none"/>
<circle cx="49.2" cy="191.0" r="1.55" fill="#e3141b"/>
<circle cx="50.6" cy="194.1" r="1.55" fill="#e3141b"/>
<circle cx="48.5" cy="203.5" r="1.55" fill="#e3141b"/>
<circle cx="51.0" cy="204.5" r="1.55" fill="#e3141b"/>
<circle cx="49.0" cy="206.0" r="1.55" fill="#e3141b"/>
<circle cx="52.0" cy="206.5" r="1.55" fill="#e3141b"/>
<circle cx="50.0" cy="208.0" r="1.55" fill="#e3141b"/>
<circle cx="48.9" cy="211.0" r="1.55" fill="#e3141b"/>
<circle cx="52.4" cy="211.0" r="1.55" fill="#e3141b"/>
<circle cx="49.5" cy="213.2" r="1.55" fill="#e3141b"/>
<circle cx="49.5" cy="215.9" r="1.55" fill="#e3141b"/>
<circle cx="52.0" cy="216.7" r="1.55" fill="#e3141b"/>
<circle cx="49.5" cy="219.9" r="1.55" fill="#e3141b"/>
<circle cx="52.0" cy="221.1" r="1.55" fill="#e3141b"/>
<circle cx="50.3" cy="225.8" r="1.55" fill="#b81c24"/>
<circle cx="57.3" cy="218.8" r="1.55" fill="#131380"/>
<circle cx="60.8" cy="216.7" r="1.55" fill="#10106c"/>
<circle cx="57.3" cy="221.6" r="1.55" fill="#131380"/>
<circle cx="59.0" cy="224.1" r="1.55" fill="#131380"/>
<circle cx="60.8" cy="225.5" r="1.55" fill="#131380"/>
<circle cx="57.3" cy="226.3" r="1.55" fill="#131380"/>
<circle cx="59.0" cy="228.6" r="1.55" fill="#131380"/>
<circle cx="67.0" cy="197.6" r="1.55" fill="#247a28"/>
<circle cx="66.9" cy="214.6" r="1.55" fill="#247a28"/>
<circle cx="66.9" cy="229.8" r="1.55" fill="#2a9a2a"/>
<circle cx="66.0" cy="232.5" r="1.55" fill="#2a9a2a"/>
<line x1="64.3" y1="228.6" x2="69.5" y2="228.6" stroke="#145014" stroke-width="1"/>
<circle cx="78.0" cy="197.1" r="1.55" fill="#b81c24"/>
<circle cx="83.3" cy="200.0" r="1.55" fill="#b81c24"/>
<circle cx="80.7" cy="203.2" r="1.55" fill="#b81c24"/>
<circle cx="78.0" cy="205.8" r="1.55" fill="#e3141b"/>
<circle cx="82.0" cy="207.5" r="1.55" fill="#e3141b"/>
<circle cx="80.0" cy="210.2" r="1.55" fill="#e3141b"/>
<circle cx="83.0" cy="211.6" r="1.55" fill="#e3141b"/>
<circle cx="78.0" cy="212.0" r="1.55" fill="#e3141b"/>
<circle cx="80.0" cy="214.0" r="1.55" fill="#e3141b"/>
<circle cx="83.0" cy="216.0" r="1.55" fill="#e3141b"/>
<circle cx="81.0" cy="218.0" r="1.55" fill="#e3141b"/>
<circle cx="79.0" cy="221.0" r="1.55" fill="#b81c24"/>
<circle cx="77.5" cy="209.0" r="1.55" fill="#e3141b"/>
<circle cx="84.0" cy="208.0" r="1.55" fill="#e3141b"/>
<line x1="77" y1="211.4" x2="82.4" y2="211.4" stroke="#401010" stroke-width="1"/>
<circle cx="90.0" cy="218.8" r="1.55" fill="#10106c"/>
<circle cx="88.2" cy="223.7" r="1.55" fill="#131380"/>
<circle cx="91.4" cy="225.1" r="1.55" fill="#131380"/>
<circle cx="88.0" cy="227.2" r="1.55" fill="#131380"/>
<circle cx="90.0" cy="229.3" r="1.55" fill="#131380"/>
<circle cx="97.3" cy="209.6" r="1.55" fill="#2a9a2a"/>
<circle cx="98.5" cy="210.5" r="1.55" fill="#2a9a2a"/>
<circle cx="97.8" cy="222.3" r="1.55" fill="#2a9a2a"/>
<circle cx="96.6" cy="223.5" r="1.55" fill="#2a9a2a"/>
<line x1="95.2" y1="218.3" x2="99.6" y2="218.3" stroke="#145014" stroke-width="1"/>
<circle cx="112.5" cy="193.6" r="1.55" fill="#b81c24"/>
<circle cx="112.3" cy="206.1" r="1.55" fill="#b81c24"/>
<circle cx="111.3" cy="211.9" r="1.55" fill="#e3141b"/>
<circle cx="113.3" cy="210.8" r="1.55" fill="#e3141b"/>
<circle cx="111.0" cy="214.5" r="1.55" fill="#e3141b"/>
<circle cx="113.5" cy="216.0" r="1.55" fill="#e3141b"/>
<circle cx="111.5" cy="218.0" r="1.55" fill="#e3141b"/>
<circle cx="113.0" cy="220.0" r="1.55" fill="#e3141b"/>
<circle cx="111.0" cy="222.0" r="1.55" fill="#e3141b"/>
<circle cx="113.5" cy="223.5" r="1.55" fill="#e3141b"/>
<circle cx="111.5" cy="225.5" r="1.55" fill="#e3141b"/>
<circle cx="113.0" cy="227.5" r="1.55" fill="#e3141b"/>
<circle cx="121.4" cy="218.8" r="1.55" fill="#10106c"/>
<circle cx="120.5" cy="223.5" r="1.55" fill="#10106c"/>
<circle cx="117.9" cy="229.7" r="1.55" fill="#131380"/>
<circle cx="121.4" cy="230.5" r="1.55" fill="#131380"/>
<circle cx="119.7" cy="234.0" r="1.55" fill="#10106c"/>
<circle cx="127.5" cy="215.7" r="1.55" fill="#247a28"/>
<circle cx="131.0" cy="218.3" r="1.55" fill="#247a28"/>
<circle cx="128.0" cy="226.2" r="1.55" fill="#247a28"/>
<line x1="127" y1="224.4" x2="131.5" y2="224.4" stroke="#145014" stroke-width="1"/>
<path d="M151.8 168.8V235.0H247.1" stroke="#555" stroke-width="0.9" fill="none"/>
<line x1="150.3" y1="174.6" x2="151.8" y2="174.6" stroke="#555" stroke-width="0.8"/>
<text x="150.0" y="176.3" font-size="4.8" font-weight="bold" fill="#000" stroke="#000" stroke-width="0.3" text-anchor="end" textLength="6.8" lengthAdjust="spacingAndGlyphs">100</text>
<line x1="150.3" y1="186.66" x2="151.8" y2="186.66" stroke="#555" stroke-width="0.8"/>
<text x="150.0" y="188.4" font-size="4.8" font-weight="bold" fill="#000" stroke="#000" stroke-width="0.3" text-anchor="end">80</text>
<line x1="150.3" y1="198.72" x2="151.8" y2="198.72" stroke="#555" stroke-width="0.8"/>
<text x="150.0" y="200.4" font-size="4.8" font-weight="bold" fill="#000" stroke="#000" stroke-width="0.3" text-anchor="end">60</text>
<line x1="150.3" y1="210.78" x2="151.8" y2="210.78" stroke="#555" stroke-width="0.8"/>
<text x="150.0" y="212.5" font-size="4.8" font-weight="bold" fill="#000" stroke="#000" stroke-width="0.3" text-anchor="end">40</text>
<line x1="150.3" y1="222.84" x2="151.8" y2="222.84" stroke="#555" stroke-width="0.8"/>
<text x="150.0" y="224.5" font-size="4.8" font-weight="bold" fill="#000" stroke="#000" stroke-width="0.3" text-anchor="end">20</text>
<line x1="150.3" y1="234.9" x2="151.8" y2="234.9" stroke="#555" stroke-width="0.8"/>
<text x="150.0" y="236.6" font-size="4.8" font-weight="bold" fill="#000" stroke="#000" stroke-width="0.3" text-anchor="end">0</text>
<line x1="155.8" y1="235.0" x2="155.8" y2="236.6" stroke="#555" stroke-width="0.8"/>
<line x1="165.4" y1="235.0" x2="165.4" y2="236.6" stroke="#555" stroke-width="0.8"/>
<line x1="174.5" y1="235.0" x2="174.5" y2="236.6" stroke="#555" stroke-width="0.8"/>
<line x1="189.9" y1="235.0" x2="189.9" y2="236.6" stroke="#555" stroke-width="0.8"/>
<line x1="199.5" y1="235.0" x2="199.5" y2="236.6" stroke="#555" stroke-width="0.8"/>
<line x1="207" y1="235.0" x2="207" y2="236.6" stroke="#555" stroke-width="0.8"/>
<line x1="224.1" y1="235.0" x2="224.1" y2="236.6" stroke="#555" stroke-width="0.8"/>
<line x1="233.5" y1="235.0" x2="233.5" y2="236.6" stroke="#555" stroke-width="0.8"/>
<line x1="242.2" y1="235.0" x2="242.2" y2="236.6" stroke="#555" stroke-width="0.8"/>
<text x="156.7" y="249.4" font-size="7.0" font-weight="bold" fill="#000" stroke="#000" stroke-width="0.4" textLength="17.9" lengthAdjust="spacingAndGlyphs">Naive</text>
<text x="196.2" y="249.4" font-size="7.0" font-weight="bold" fill="#000" stroke="#000" stroke-width="0.4" textLength="10.0" lengthAdjust="spacingAndGlyphs">CM</text>
<text x="229.2" y="249.4" font-size="7.0" font-weight="bold" fill="#000" stroke="#000" stroke-width="0.4" textLength="10.4" lengthAdjust="spacingAndGlyphs">EM</text>
<text x="200.0" y="155.7" font-size="8.0" font-weight="bold" fill="#000" stroke="#000" stroke-width="0.4" textLength="15.2" lengthAdjust="spacingAndGlyphs">CD8</text>
<text transform="translate(141.6,200.7) rotate(-90)" x="0" y="0" font-size="6.4" font-weight="bold" fill="#000" stroke="#000" stroke-width="0.3" text-anchor="middle" textLength="69.8" lengthAdjust="spacingAndGlyphs">S1P-induced % positive</text>
<text x="154.1" y="177.2" font-size="5.6" font-weight="normal" fill="#000" stroke="#000" stroke-width="0.2" textLength="22.6" lengthAdjust="spacingAndGlyphs">p= 0.0002</text>
<path d="M154.4 179.8V177.8H163V179.8" stroke="#222" stroke-width="0.75" fill="none"/>
<text x="188.1" y="190.2" font-size="5.6" font-weight="normal" fill="#000" stroke="#000" stroke-width="0.2" textLength="20.4" lengthAdjust="spacingAndGlyphs">p= 0.006</text>
<path d="M188.3 191.9V190.3H198.3V191.9" stroke="#222" stroke-width="0.75" fill="none"/>
<text x="223.4" y="194.9" font-size="5.6" font-weight="normal" fill="#000" stroke="#000" stroke-width="0.2" textLength="20.8" lengthAdjust="spacingAndGlyphs">p= 0.003</text>
<path d="M223.7 197.3V195.5H232.6V197.3" stroke="#222" stroke-width="0.75" fill="none"/>
<circle cx="156.4" cy="180.8" r="1.55" fill="#b81c24"/>
<circle cx="154.6" cy="184.3" r="1.55" fill="#b81c24"/>
<circle cx="154.6" cy="192.2" r="1.55" fill="#e3141b"/>
<circle cx="156.7" cy="193.9" r="1.55" fill="#e3141b"/>
<circle cx="154.6" cy="196.5" r="1.55" fill="#e3141b"/>
<circle cx="155.0" cy="198.5" r="1.55" fill="#e3141b"/>
<circle cx="157.0" cy="200.0" r="1.55" fill="#e3141b"/>
<circle cx="156.0" cy="203.5" r="1.55" fill="#e3141b"/>
<circle cx="154.6" cy="206.1" r="1.55" fill="#e3141b"/>
<circle cx="157.5" cy="207.9" r="1.55" fill="#e3141b"/>
<circle cx="155.8" cy="209.4" r="1.55" fill="#e3141b"/>
<circle cx="156.4" cy="212.0" r="1.55" fill="#e3141b"/>
<circle cx="156.4" cy="214.6" r="1.55" fill="#e3141b"/>
<circle cx="155.0" cy="217.2" r="1.55" fill="#e3141b"/>
<circle cx="154.6" cy="221.0" r="1.55" fill="#b81c24"/>
<line x1="153.2" y1="203.5" x2="159.3" y2="203.5" stroke="#401010" stroke-width="1"/>
<circle cx="165.4" cy="212.3" r="1.55" fill="#10106c"/>
<circle cx="163.7" cy="215.5" r="1.55" fill="#131380"/>
<circle cx="162.8" cy="219.0" r="1.55" fill="#131380"/>
<circle cx="165.4" cy="217.6" r="1.55" fill="#131380"/>
<circle cx="167.2" cy="222.4" r="1.55" fill="#131380"/>
<circle cx="164.6" cy="223.3" r="1.55" fill="#131380"/>
<circle cx="162.8" cy="222.4" r="1.55" fill="#131380"/>
<circle cx="164.0" cy="227.3" r="1.55" fill="#10106c"/>
<circle cx="174.5" cy="184.8" r="1.55" fill="#247a28"/>
<circle cx="175.0" cy="206.7" r="1.55" fill="#247a28"/>
<circle cx="175.0" cy="225.9" r="1.55" fill="#2a9a2a"/>
<circle cx="173.8" cy="228.5" r="1.55" fill="#2a9a2a"/>
<line x1="172.4" y1="217.6" x2="177.7" y2="217.6" stroke="#145014" stroke-width="1"/>
<circle cx="186.5" cy="194.3" r="1.55" fill="#b81c24"/>
<circle cx="192.0" cy="195.0" r="1.55" fill="#b81c24"/>
<circle cx="189.0" cy="201.8" r="1.55" fill="#b81c24"/>
<circle cx="187.0" cy="205.0" r="1.55" fill="#e3141b"/>
<circle cx="191.5" cy="204.5" r="1.55" fill="#e3141b"/>
<circle cx="189.5" cy="207.0" r="1.55" fill="#e3141b"/>
<circle cx="186.0" cy="210.0" r="1.55" fill="#e3141b"/>
<circle cx="191.0" cy="210.0" r="1.55" fill="#e3141b"/>
<circle cx="188.0" cy="212.0" r="1.55" fill="#e3141b"/>
<circle cx="189.0" cy="214.0" r="1.55" fill="#e3141b"/>
<circle cx="193.0" cy="216.0" r="1.55" fill="#b81c24"/>
<circle cx="186.0" cy="217.0" r="1.55" fill="#b81c24"/>
<circle cx="190.0" cy="219.0" r="1.55" fill="#b81c24"/>
<circle cx="188.0" cy="222.0" r="1.55" fill="#b81c24"/>
<circle cx="199.5" cy="201.8" r="1.55" fill="#10106c"/>
<circle cx="197.7" cy="219.0" r="1.55" fill="#131380"/>
<circle cx="200.3" cy="221.6" r="1.55" fill="#131380"/>
<circle cx="197.0" cy="222.4" r="1.55" fill="#131380"/>
<circle cx="198.6" cy="225.9" r="1.55" fill="#131380"/>
<circle cx="200.3" cy="227.7" r="1.55" fill="#131380"/>
<circle cx="199.5" cy="229.4" r="1.55" fill="#131380"/>
<circle cx="201.0" cy="220.2" r="1.55" fill="#131380"/>
<circle cx="201.0" cy="228.9" r="1.55" fill="#131380"/>
<circle cx="210.8" cy="206.2" r="1.55" fill="#247a28"/>
<circle cx="207.0" cy="210.5" r="1.55" fill="#247a28"/>
<circle cx="209.0" cy="225.4" r="1.55" fill="#247a28"/>
<line x1="206.1" y1="220.5" x2="212.2" y2="220.5" stroke="#145014" stroke-width="1"/>
<circle cx="224.4" cy="200.1" r="1.55" fill="#b81c24"/>
<circle cx="222.7" cy="211.0" r="1.55" fill="#e3141b"/>
<circle cx="226.2" cy="211.4" r="1.55" fill="#e3141b"/>
<circle cx="224.4" cy="212.3" r="1.55" fill="#e3141b"/>
<circle cx="222.0" cy="215.0" r="1.55" fill="#e3141b"/>
<circle cx="225.0" cy="216.0" r="1.55" fill="#e3141b"/>
<circle cx="223.0" cy="218.0" r="1.55" fill="#e3141b"/>
<circle cx="226.0" cy="219.5" r="1.55" fill="#e3141b"/>
<circle cx="222.5" cy="221.0" r="1.55" fill="#e3141b"/>
<circle cx="225.0" cy="222.5" r="1.55" fill="#e3141b"/>
<circle cx="223.0" cy="224.0" r="1.55" fill="#e3141b"/>
<circle cx="226.0" cy="225.0" r="1.55" fill="#e3141b"/>
<circle cx="222.5" cy="227.0" r="1.55" fill="#e3141b"/>
<circle cx="225.0" cy="228.0" r="1.55" fill="#e3141b"/>
<circle cx="223.5" cy="230.0" r="1.55" fill="#e3141b"/>
<circle cx="233.5" cy="212.0" r="1.55" fill="#10106c"/>
<circle cx="231.0" cy="228.9" r="1.55" fill="#131380"/>
<circle cx="234.0" cy="229.8" r="1.55" fill="#131380"/>
<circle cx="232.8" cy="231.5" r="1.55" fill="#131380"/>
<circle cx="233.1" cy="234.2" r="1.55" fill="#131380"/>
<circle cx="242.7" cy="200.1" r="1.55" fill="#247a28"/>
<circle cx="241.5" cy="231.5" r="1.55" fill="#2a9a2a"/>
<circle cx="245.0" cy="232.0" r="1.55" fill="#2a9a2a"/>
<line x1="240.1" y1="224.6" x2="245.4" y2="224.6" stroke="#145014" stroke-width="1"/>
<path d="M299 171.8V235.6H390.9" stroke="#555" stroke-width="0.9" fill="none"/>
<line x1="297.5" y1="172.3" x2="299" y2="172.3" stroke="#555" stroke-width="0.8"/>
<text x="297.2" y="174.0" font-size="4.8" font-weight="bold" fill="#000" stroke="#000" stroke-width="0.3" text-anchor="end" textLength="6.8" lengthAdjust="spacingAndGlyphs">150</text>
<line x1="297.5" y1="193.4" x2="299" y2="193.4" stroke="#555" stroke-width="0.8"/>
<text x="297.2" y="195.1" font-size="4.8" font-weight="bold" fill="#000" stroke="#000" stroke-width="0.3" text-anchor="end" textLength="6.8" lengthAdjust="spacingAndGlyphs">100</text>
<line x1="297.5" y1="214.5" x2="299" y2="214.5" stroke="#555" stroke-width="0.8"/>
<text x="297.2" y="216.2" font-size="4.8" font-weight="bold" fill="#000" stroke="#000" stroke-width="0.3" text-anchor="end">50</text>
<line x1="297.5" y1="235.6" x2="299" y2="235.6" stroke="#555" stroke-width="0.8"/>
<text x="297.2" y="237.3" font-size="4.8" font-weight="bold" fill="#000" stroke="#000" stroke-width="0.3" text-anchor="end">0</text>
<line x1="301.5" y1="235.6" x2="301.5" y2="237.2" stroke="#555" stroke-width="0.8"/>
<line x1="311" y1="235.6" x2="311" y2="237.2" stroke="#555" stroke-width="0.8"/>
<line x1="320" y1="235.6" x2="320" y2="237.2" stroke="#555" stroke-width="0.8"/>
<line x1="335" y1="235.6" x2="335" y2="237.2" stroke="#555" stroke-width="0.8"/>
<line x1="345" y1="235.6" x2="345" y2="237.2" stroke="#555" stroke-width="0.8"/>
<line x1="353.6" y1="235.6" x2="353.6" y2="237.2" stroke="#555" stroke-width="0.8"/>
<line x1="369.7" y1="235.6" x2="369.7" y2="237.2" stroke="#555" stroke-width="0.8"/>
<line x1="378.7" y1="235.6" x2="378.7" y2="237.2" stroke="#555" stroke-width="0.8"/>
<line x1="387.1" y1="235.6" x2="387.1" y2="237.2" stroke="#555" stroke-width="0.8"/>
<text x="305.4" y="250.3" font-size="7.0" font-weight="bold" fill="#000" stroke="#000" stroke-width="0.4" textLength="18.1" lengthAdjust="spacingAndGlyphs">Naive</text>
<text x="340.4" y="248.4" font-size="7.0" font-weight="bold" fill="#000" stroke="#000" stroke-width="0.4" textLength="10.0" lengthAdjust="spacingAndGlyphs">CM</text>
<text x="374.0" y="247.8" font-size="7.0" font-weight="bold" fill="#000" stroke="#000" stroke-width="0.4" textLength="10.6" lengthAdjust="spacingAndGlyphs">EM</text>
<text x="332.7" y="154.5" font-size="8.0" font-weight="bold" fill="#000" stroke="#000" stroke-width="0.4" textLength="14.6" lengthAdjust="spacingAndGlyphs">CD4</text>
<text transform="translate(282.3,200.6) rotate(-90)" x="0" y="0" font-size="6.4" font-weight="bold" fill="#000" stroke="#000" stroke-width="0.3" text-anchor="middle" textLength="68.1" lengthAdjust="spacingAndGlyphs">SDF-induced % positive</text>
<text x="301.7" y="187.4" font-size="5.6" font-weight="normal" fill="#000" stroke="#000" stroke-width="0.2" textLength="20.2" lengthAdjust="spacingAndGlyphs">p= 0.466</text>
<path d="M301.7 190.7V189.2H311.5V190.7" stroke="#222" stroke-width="0.75" fill="none"/>
<text x="335.4" y="190.2" font-size="5.6" font-weight="normal" fill="#000" stroke="#000" stroke-width="0.2" textLength="20.7" lengthAdjust="spacingAndGlyphs">p= 0.112</text>
<path d="M335.4 193.6V192.1H345.5V193.6" stroke="#222" stroke-width="0.75" fill="none"/>
<text x="369.0" y="203.6" font-size="5.6" font-weight="normal" fill="#000" stroke="#000" stroke-width="0.2" textLength="19.9" lengthAdjust="spacingAndGlyphs">p= 0.018</text>
<path d="M368.4 207.4V205.4H378.5V207.4" stroke="#222" stroke-width="0.75" fill="none"/>
<circle cx="301.0" cy="195.0" r="1.55" fill="#e3141b"/>
<circle cx="303.5" cy="196.0" r="1.55" fill="#e3141b"/>
<circle cx="300.5" cy="197.5" r="1.55" fill="#e3141b"/>
<circle cx="303.0" cy="199.0" r="1.55" fill="#e3141b"/>
<circle cx="301.5" cy="200.5" r="1.55" fill="#e3141b"/>
<circle cx="304.0" cy="201.5" r="1.55" fill="#e3141b"/>
<circle cx="300.5" cy="202.5" r="1.55" fill="#e3141b"/>
<circle cx="302.5" cy="203.5" r="1.55" fill="#e3141b"/>
<circle cx="301.0" cy="205.0" r="1.55" fill="#e3141b"/>
<circle cx="303.5" cy="206.0" r="1.55" fill="#e3141b"/>
<circle cx="300.5" cy="207.5" r="1.55" fill="#e3141b"/>
<circle cx="302.5" cy="209.0" r="1.55" fill="#e3141b"/>
<circle cx="304.8" cy="208.9" r="1.55" fill="#e3141b"/>
<circle cx="303.1" cy="211.5" r="1.55" fill="#e3141b"/>
<circle cx="301.3" cy="215.0" r="1.55" fill="#b81c24"/>
<circle cx="311.8" cy="197.4" r="1.55" fill="#10106c"/>
<circle cx="309.2" cy="201.8" r="1.55" fill="#131380"/>
<circle cx="312.7" cy="202.3" r="1.55" fill="#131380"/>
<circle cx="310.0" cy="206.2" r="1.55" fill="#131380"/>
<circle cx="312.7" cy="207.0" r="1.55" fill="#131380"/>
<circle cx="310.9" cy="210.5" r="1.55" fill="#131380"/>
<circle cx="312.7" cy="212.3" r="1.55" fill="#131380"/>
<circle cx="309.2" cy="210.1" r="1.55" fill="#131380"/>
<circle cx="318.3" cy="197.8" r="1.55" fill="#247a28"/>
<circle cx="320.0" cy="207.0" r="1.55" fill="#247a28"/>
<circle cx="320.0" cy="226.3" r="1.55" fill="#247a28"/>
<line x1="318" y1="200" x2="322.5" y2="200" stroke="#145014" stroke-width="1"/>
<circle cx="335.0" cy="195.0" r="1.55" fill="#e3141b"/>
<circle cx="337.5" cy="196.5" r="1.55" fill="#e3141b"/>
<circle cx="334.0" cy="198.0" r="1.55" fill="#e3141b"/>
<circle cx="336.5" cy="199.5" r="1.55" fill="#e3141b"/>
<circle cx="334.5" cy="201.0" r="1.55" fill="#e3141b"/>
<circle cx="337.0" cy="202.5" r="1.55" fill="#e3141b"/>
<circle cx="335.0" cy="204.0" r="1.55" fill="#e3141b"/>
<circle cx="337.5" cy="205.5" r="1.55" fill="#e3141b"/>
<circle cx="334.0" cy="207.0" r="1.55" fill="#e3141b"/>
<circle cx="336.5" cy="208.5" r="1.55" fill="#e3141b"/>
<circle cx="335.0" cy="210.0" r="1.55" fill="#e3141b"/>
<circle cx="334.5" cy="211.8" r="1.55" fill="#e3141b"/>
<circle cx="337.1" cy="212.4" r="1.55" fill="#e3141b"/>
<circle cx="335.7" cy="215.0" r="1.55" fill="#e3141b"/>
<circle cx="336.2" cy="216.7" r="1.55" fill="#e3141b"/>
<circle cx="345.2" cy="198.3" r="1.55" fill="#10106c"/>
<circle cx="341.7" cy="202.7" r="1.55" fill="#131380"/>
<circle cx="347.0" cy="203.5" r="1.55" fill="#10106c"/>
<circle cx="341.7" cy="205.8" r="1.55" fill="#131380"/>
<circle cx="345.2" cy="214.0" r="1.55" fill="#10106c"/>
<circle cx="345.2" cy="218.4" r="1.55" fill="#131380"/>
<circle cx="343.5" cy="218.1" r="1.55" fill="#131380"/>
<circle cx="345.5" cy="208.9" r="1.55" fill="#10106c"/>
<line x1="342.6" y1="209.3" x2="347.8" y2="209.3" stroke="#666" stroke-width="1"/>
<circle cx="354.0" cy="199.5" r="1.55" fill="#2a9a2a"/>
<circle cx="352.2" cy="202.3" r="1.55" fill="#2a9a2a"/>
<circle cx="354.8" cy="202.3" r="1.55" fill="#2a9a2a"/>
<circle cx="354.0" cy="205.8" r="1.55" fill="#2a9a2a"/>
<circle cx="353.6" cy="224.6" r="1.55" fill="#247a28"/>
<circle cx="370.5" cy="209.9" r="1.55" fill="#b81c24"/>
<circle cx="366.5" cy="213.3" r="1.55" fill="#e3141b"/>
<circle cx="365.5" cy="215.5" r="1.55" fill="#e3141b"/>
<circle cx="369.0" cy="216.0" r="1.55" fill="#e3141b"/>
<circle cx="371.4" cy="218.5" r="1.55" fill="#e3141b"/>
<circle cx="367.0" cy="220.0" r="1.55" fill="#e3141b"/>
<circle cx="370.0" cy="221.0" r="1.55" fill="#e3141b"/>
<circle cx="367.0" cy="224.6" r="1.55" fill="#e3141b"/>
<circle cx="370.5" cy="224.6" r="1.55" fill="#e3141b"/>
<circle cx="370.5" cy="227.5" r="1.55" fill="#e3141b"/>
<circle cx="368.8" cy="231.5" r="1.55" fill="#e3141b"/>
<circle cx="367.9" cy="232.4" r="1.55" fill="#e3141b"/>
<circle cx="379.2" cy="214.9" r="1.55" fill="#10106c"/>
<circle cx="379.2" cy="219.8" r="1.55" fill="#10106c"/>
<circle cx="376.0" cy="227.0" r="1.55" fill="#131380"/>
<circle cx="378.5" cy="228.0" r="1.55" fill="#131380"/>
<circle cx="380.5" cy="227.5" r="1.55" fill="#131380"/>
<circle cx="377.0" cy="230.0" r="1.55" fill="#131380"/>
<circle cx="379.5" cy="231.0" r="1.55" fill="#131380"/>
<circle cx="376.5" cy="232.0" r="1.55" fill="#131380"/>
<circle cx="385.4" cy="216.6" r="1.55" fill="#247a28"/>
<circle cx="389.7" cy="215.8" r="1.55" fill="#247a28"/>
<circle cx="386.7" cy="228.1" r="1.55" fill="#247a28"/>
<line x1="384.5" y1="221" x2="390.6" y2="221" stroke="#145014" stroke-width="1"/>
<path d="M424.4 172.0V238.7H519.5" stroke="#555" stroke-width="0.9" fill="none"/>
<line x1="422.9" y1="172.7" x2="424.4" y2="172.7" stroke="#555" stroke-width="0.8"/>
<text x="422.6" y="174.4" font-size="4.8" font-weight="bold" fill="#000" stroke="#000" stroke-width="0.3" text-anchor="end" textLength="6.8" lengthAdjust="spacingAndGlyphs">150</text>
<line x1="422.9" y1="194.7" x2="424.4" y2="194.7" stroke="#555" stroke-width="0.8"/>
<text x="422.6" y="196.4" font-size="4.8" font-weight="bold" fill="#000" stroke="#000" stroke-width="0.3" text-anchor="end" textLength="6.8" lengthAdjust="spacingAndGlyphs">100</text>
<line x1="422.9" y1="216.7" x2="424.4" y2="216.7" stroke="#555" stroke-width="0.8"/>
<text x="422.6" y="218.4" font-size="4.8" font-weight="bold" fill="#000" stroke="#000" stroke-width="0.3" text-anchor="end">50</text>
<line x1="422.9" y1="238.7" x2="424.4" y2="238.7" stroke="#555" stroke-width="0.8"/>
<text x="422.6" y="240.4" font-size="4.8" font-weight="bold" fill="#000" stroke="#000" stroke-width="0.3" text-anchor="end">0</text>
<line x1="428.8" y1="238.7" x2="428.8" y2="240.29999999999998" stroke="#555" stroke-width="0.8"/>
<line x1="437.5" y1="238.7" x2="437.5" y2="240.29999999999998" stroke="#555" stroke-width="0.8"/>
<line x1="446.2" y1="238.7" x2="446.2" y2="240.29999999999998" stroke="#555" stroke-width="0.8"/>
<line x1="463.5" y1="238.7" x2="463.5" y2="240.29999999999998" stroke="#555" stroke-width="0.8"/>
<line x1="472.1" y1="238.7" x2="472.1" y2="240.29999999999998" stroke="#555" stroke-width="0.8"/>
<line x1="480.8" y1="238.7" x2="480.8" y2="240.29999999999998" stroke="#555" stroke-width="0.8"/>
<line x1="498.1" y1="238.7" x2="498.1" y2="240.29999999999998" stroke="#555" stroke-width="0.8"/>
<line x1="506.7" y1="238.7" x2="506.7" y2="240.29999999999998" stroke="#555" stroke-width="0.8"/>
<line x1="515.6" y1="238.7" x2="515.6" y2="240.29999999999998" stroke="#555" stroke-width="0.8"/>
<text x="431.9" y="250.6" font-size="7.0" font-weight="bold" fill="#000" stroke="#000" stroke-width="0.4" textLength="17.7" lengthAdjust="spacingAndGlyphs">Naive</text>
<text x="470.4" y="252.0" font-size="7.0" font-weight="bold" fill="#000" stroke="#000" stroke-width="0.4" textLength="9.8" lengthAdjust="spacingAndGlyphs">CM</text>
<text x="502.1" y="251.3" font-size="7.0" font-weight="bold" fill="#000" stroke="#000" stroke-width="0.4" textLength="10.4" lengthAdjust="spacingAndGlyphs">EM</text>
<text x="451.2" y="154.0" font-size="8.0" font-weight="bold" fill="#000" stroke="#000" stroke-width="0.4" textLength="15.0" lengthAdjust="spacingAndGlyphs">CD8</text>
<text transform="translate(410.6,204.5) rotate(-90)" x="0" y="0" font-size="6.4" font-weight="bold" fill="#000" stroke="#000" stroke-width="0.3" text-anchor="middle" textLength="67.8" lengthAdjust="spacingAndGlyphs">SDF-induced % positive</text>
<text x="427.1" y="188.0" font-size="5.6" font-weight="normal" fill="#000" stroke="#000" stroke-width="0.2" textLength="20.8" lengthAdjust="spacingAndGlyphs">p= 0.152</text>
<path d="M428.6 191.6V190.1H436.9V191.6" stroke="#222" stroke-width="0.75" fill="none"/>
<text x="463.4" y="190.9" font-size="5.6" font-weight="normal" fill="#000" stroke="#000" stroke-width="0.2" textLength="20.5" lengthAdjust="spacingAndGlyphs">p= 0.084</text>
<path d="M463.4 194.5V193.0H471.7V194.5" stroke="#222" stroke-width="0.75" fill="none"/>
<text x="498.8" y="190.6" font-size="5.6" font-weight="normal" fill="#000" stroke="#000" stroke-width="0.2" textLength="20.2" lengthAdjust="spacingAndGlyphs">p= 0.049</text>
<path d="M499.1 193.3V191.5H507.7V193.3" stroke="#222" stroke-width="0.75" fill="none"/>
<circle cx="427.0" cy="195.0" r="1.55" fill="#e3141b"/>
<circle cx="429.5" cy="195.5" r="1.55" fill="#e3141b"/>
<circle cx="431.5" cy="196.5" r="1.55" fill="#e3141b"/>
<circle cx="426.5" cy="197.5" r="1.55" fill="#e3141b"/>
<circle cx="429.0" cy="198.0" r="1.55" fill="#e3141b"/>
<circle cx="431.0" cy="199.5" r="1.55" fill="#e3141b"/>
<circle cx="427.0" cy="200.5" r="1.55" fill="#e3141b"/>
<circle cx="429.5" cy="201.5" r="1.55" fill="#e3141b"/>
<circle cx="427.0" cy="203.0" r="1.55" fill="#e3141b"/>
<circle cx="430.0" cy="204.0" r="1.55" fill="#e3141b"/>
<circle cx="428.0" cy="206.0" r="1.55" fill="#e3141b"/>
<circle cx="430.5" cy="207.5" r="1.55" fill="#e3141b"/>
<circle cx="427.5" cy="209.0" r="1.55" fill="#e3141b"/>
<circle cx="434.2" cy="195.7" r="1.55" fill="#131380"/>
<circle cx="437.7" cy="196.6" r="1.55" fill="#131380"/>
<circle cx="440.3" cy="198.3" r="1.55" fill="#131380"/>
<circle cx="434.2" cy="199.2" r="1.55" fill="#131380"/>
<circle cx="434.2" cy="202.7" r="1.55" fill="#131380"/>
<circle cx="436.8" cy="201.8" r="1.55" fill="#131380"/>
<circle cx="439.4" cy="207.0" r="1.55" fill="#10106c"/>
<circle cx="435.9" cy="217.0" r="1.55" fill="#131380"/>
<circle cx="437.7" cy="216.3" r="1.55" fill="#131380"/>
<circle cx="446.4" cy="197.4" r="1.55" fill="#2a9a2a"/>
<circle cx="445.5" cy="199.5" r="1.55" fill="#2a9a2a"/>
<circle cx="446.0" cy="208.3" r="1.55" fill="#247a28"/>
<circle cx="446.0" cy="228.9" r="1.55" fill="#247a28"/>
<line x1="444.5" y1="201.3" x2="448.5" y2="201.3" stroke="#145014" stroke-width="1"/>
<circle cx="462.0" cy="196.6" r="1.55" fill="#e3141b"/>
<circle cx="466.0" cy="198.0" r="1.55" fill="#e3141b"/>
<circle cx="463.0" cy="199.0" r="1.55" fill="#e3141b"/>
<circle cx="460.5" cy="200.0" r="1.55" fill="#e3141b"/>
<circle cx="464.0" cy="202.3" r="1.55" fill="#e3141b"/>
<circle cx="461.0" cy="203.0" r="1.55" fill="#e3141b"/>
<circle cx="462.0" cy="205.0" r="1.55" fill="#e3141b"/>
<circle cx="464.0" cy="208.0" r="1.55" fill="#b81c24"/>
<circle cx="460.0" cy="210.0" r="1.55" fill="#e3141b"/>
<circle cx="462.6" cy="212.4" r="1.55" fill="#e3141b"/>
<circle cx="465.0" cy="213.0" r="1.55" fill="#e3141b"/>
<circle cx="464.9" cy="214.6" r="1.55" fill="#e3141b"/>
<circle cx="462.0" cy="216.0" r="1.55" fill="#e3141b"/>
<circle cx="461.7" cy="216.7" r="1.55" fill="#e3141b"/>
<circle cx="472.6" cy="200.0" r="1.55" fill="#10106c"/>
<circle cx="470.5" cy="206.2" r="1.55" fill="#131380"/>
<circle cx="474.8" cy="204.8" r="1.55" fill="#10106c"/>
<circle cx="471.3" cy="209.7" r="1.55" fill="#131380"/>
<circle cx="473.6" cy="211.4" r="1.55" fill="#131380"/>
<circle cx="471.9" cy="214.0" r="1.55" fill="#131380"/>
<circle cx="473.1" cy="216.6" r="1.55" fill="#131380"/>
<circle cx="470.8" cy="217.5" r="1.55" fill="#131380"/>
<circle cx="482.7" cy="200.6" r="1.55" fill="#2a9a2a"/>
<circle cx="479.2" cy="201.0" r="1.55" fill="#2a9a2a"/>
<circle cx="482.7" cy="204.0" r="1.55" fill="#2a9a2a"/>
<circle cx="482.7" cy="207.9" r="1.55" fill="#247a28"/>
<circle cx="481.3" cy="226.3" r="1.55" fill="#247a28"/>
<line x1="479.2" y1="201.3" x2="484.4" y2="201.3" stroke="#145014" stroke-width="1"/>
<circle cx="498.7" cy="196.6" r="1.55" fill="#b81c24"/>
<circle cx="498.7" cy="204.4" r="1.55" fill="#b81c24"/>
<circle cx="496.0" cy="210.0" r="1.55" fill="#e3141b"/>
<circle cx="499.0" cy="210.5" r="1.55" fill="#e3141b"/>
<circle cx="501.0" cy="211.5" r="1.55" fill="#e3141b"/>
<circle cx="495.5" cy="212.5" r="1.55" fill="#e3141b"/>
<circle cx="498.0" cy="213.5" r="1.55" fill="#e3141b"/>
<circle cx="500.5" cy="214.5" r="1.55" fill="#e3141b"/>
<circle cx="496.0" cy="215.5" r="1.55" fill="#e3141b"/>
<circle cx="498.5" cy="216.5" r="1.55" fill="#e3141b"/>
<circle cx="501.0" cy="217.5" r="1.55" fill="#e3141b"/>
<circle cx="496.0" cy="218.5" r="1.55" fill="#e3141b"/>
<circle cx="499.0" cy="219.5" r="1.55" fill="#e3141b"/>
<circle cx="497.0" cy="221.0" r="1.55" fill="#e3141b"/>
<circle cx="496.6" cy="223.7" r="1.55" fill="#e3141b"/>
<circle cx="501.0" cy="225.4" r="1.55" fill="#b81c24"/>
<circle cx="498.4" cy="235.0" r="1.55" fill="#b81c24"/>
<circle cx="507.1" cy="211.5" r="1.55" fill="#10106c"/>
<circle cx="509.7" cy="215.3" r="1.55" fill="#10106c"/>
<circle cx="505.0" cy="218.8" r="1.55" fill="#10106c"/>
<circle cx="507.1" cy="222.8" r="1.55" fill="#131380"/>
<circle cx="509.7" cy="222.0" r="1.55" fill="#131380"/>
<circle cx="505.4" cy="230.3" r="1.55" fill="#131380"/>
<circle cx="508.0" cy="231.5" r="1.55" fill="#131380"/>
<circle cx="507.1" cy="232.4" r="1.55" fill="#131380"/>
<circle cx="515.5" cy="217.6" r="1.55" fill="#2a9a2a"/>
<circle cx="515.5" cy="220.2" r="1.55" fill="#2a9a2a"/>
<circle cx="515.0" cy="229.8" r="1.55" fill="#247a28"/>
<line x1="513.2" y1="223.7" x2="518.4" y2="223.7" stroke="#145014" stroke-width="1"/>
</svg>
</body></html>
